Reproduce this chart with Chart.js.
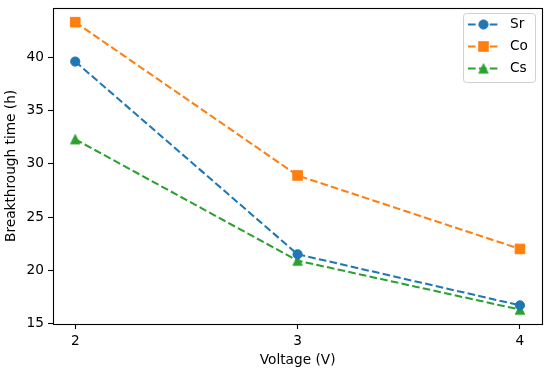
<!DOCTYPE html>
<html><head><meta charset="utf-8">
<script src="https://cdn.jsdelivr.net/npm/chart.js@4"></script>
<style>html,body{margin:0;padding:0;background:#fff}#wrap{width:550px;height:378px}</style>
</head><body><div id="wrap"><canvas id="c" width="550" height="378"></canvas></div>
<script>
const voltages = [2, 3, 4];
const srValues = [39.6, 21.5, 16.7];
const coValues = [43.3, 28.9, 22.0];
const csValues = [32.3, 20.9, 16.3];
const xTickValues = [2, 3, 4];
const yTickValues = [15, 20, 25, 30, 35, 40];
const seriesNames = ['Sr', 'Co', 'Cs'];

const FONT = {family: 'DejaVu Sans', size: 13.7};
const COLORS = ['#1f77b4', '#ff7f0e', '#2ca02c'];
const DASH = [7.6, 3.3];

function triangleImage(color) {
  const c = document.createElement('canvas');
  c.width = 14; c.height = 14;
  const g = c.getContext('2d');
  g.beginPath();
  g.moveTo(7, 2.3); g.lineTo(2.3, 11.7); g.lineTo(11.7, 11.7); g.closePath();
  g.fillStyle = color; g.fill();
  g.lineWidth = 1; g.strokeStyle = color; g.stroke();
  return c;
}
const triImg = triangleImage(COLORS[2]);

function mk(values) { return voltages.map((v, i) => ({x: v, y: values[i]})); }

const datasets = [
  {label: seriesNames[0], data: mk(srValues), pointStyle: 'circle', pointRadius: 4.6},
  {label: seriesNames[1], data: mk(coValues), pointStyle: 'rect', pointRadius: 6.8},
  {label: seriesNames[2], data: mk(csValues), pointStyle: triImg, pointRadius: 6}
].map((d, i) => Object.assign(d, {
  borderColor: COLORS[i], backgroundColor: COLORS[i],
  pointBackgroundColor: COLORS[i], pointBorderColor: COLORS[i], pointBorderWidth: 1,
  borderWidth: 2.05, borderDash: DASH, tension: 0, showLine: true, fill: false
}));

const frame = {
  id: 'frame',
  afterDatasetsDraw(chart) {
    const {ctx, chartArea: a} = chart;
    ctx.save();
    ctx.strokeStyle = '#000'; ctx.lineWidth = 1.1;
    ctx.strokeRect(Math.round(a.left) + 0.5, Math.round(a.top) + 0.5,
      Math.round(a.right - a.left), Math.round(a.bottom - a.top));
    ctx.restore();
  },
  afterDraw(chart) {
    const ctx = chart.ctx;
    ctx.save();
    const bx = 463.5, by = 13.5, bw = 72, bh = 69, r = 3;
    ctx.beginPath();
    ctx.moveTo(bx + r, by); ctx.lineTo(bx + bw - r, by); ctx.arcTo(bx + bw, by, bx + bw, by + r, r);
    ctx.lineTo(bx + bw, by + bh - r); ctx.arcTo(bx + bw, by + bh, bx + bw - r, by + bh, r);
    ctx.lineTo(bx + r, by + bh); ctx.arcTo(bx, by + bh, bx, by + bh - r, r);
    ctx.lineTo(bx, by + r); ctx.arcTo(bx, by, bx + r, by, r); ctx.closePath();
    ctx.fillStyle = 'rgba(255,255,255,0.8)'; ctx.fill();
    ctx.strokeStyle = '#d0d0d0'; ctx.lineWidth = 1; ctx.stroke();
    chart.data.datasets.forEach((ds, i) => {
      const y = 24.5 + 22 * i;
      const color = COLORS[i];
      ctx.setLineDash(DASH);
      ctx.strokeStyle = color; ctx.lineWidth = 2.05;
      ctx.beginPath(); ctx.moveTo(468, y); ctx.lineTo(499, y); ctx.stroke();
      ctx.setLineDash([]);
      const cx = 483.5;
      ctx.fillStyle = color; ctx.lineWidth = 1;
      if (i === 0) {
        ctx.beginPath(); ctx.arc(cx, y, 4.6, 0, Math.PI * 2); ctx.fill(); ctx.stroke();
      } else if (i === 1) {
        ctx.fillRect(cx - 5.3, y - 5.3, 10.6, 10.6);
      } else {
        ctx.drawImage(triImg, cx - 7, y - 7);
      }
      ctx.fillStyle = '#000';
      ctx.font = FONT.size + 'px "' + FONT.family + '"';
      ctx.textBaseline = 'middle'; ctx.textAlign = 'left';
      ctx.fillText(ds.label, 510, y);
    });
    ctx.restore();
  }
};

new Chart(document.getElementById('c'), {
  type: 'scatter',
  data: {datasets},
  options: {
    responsive: false, animation: false, devicePixelRatio: 1,
    layout: {padding: {left: 0, right: 7, top: 5, bottom: 0}},
    plugins: {legend: {display: false}, tooltip: {enabled: false}},
    scales: {
      x: {
        type: 'linear', min: 1.9, max: 4.1,
        afterBuildTicks: s => { s.ticks = xTickValues.map(v => ({value: v})); },
        afterFit: s => { s.height = 54; s.paddingLeft = 0; s.paddingRight = 0; },
        grid: {display: true, drawOnChartArea: false, drawTicks: true, tickLength: 5, tickWidth: 1.1, tickColor: '#000'},
        border: {display: false},
        ticks: {padding: 4, color: '#000', font: FONT, maxRotation: 0, autoSkip: false},
        title: {display: true, text: 'Voltage (V)', color: '#000', font: FONT, padding: {top: 0, bottom: 9}}
      },
      y: {
        type: 'linear', min: 14.95, max: 44.65,
        afterBuildTicks: s => { s.ticks = yTickValues.map(v => ({value: v})); },
        afterFit: s => { s.width = 53; s.paddingTop = 0; s.paddingBottom = 0; },
        grid: {display: true, drawOnChartArea: false, drawTicks: true, tickLength: 5, tickWidth: 1.1, tickColor: '#000'},
        border: {display: false},
        ticks: {padding: 4, color: '#000', font: FONT, autoSkip: false},
        title: {display: true, text: 'Breakthrough time (h)', color: '#000', font: FONT, padding: {top: 3, bottom: 0}}
      }
    }
  },
  plugins: [frame]
});
</script>
</body></html>
